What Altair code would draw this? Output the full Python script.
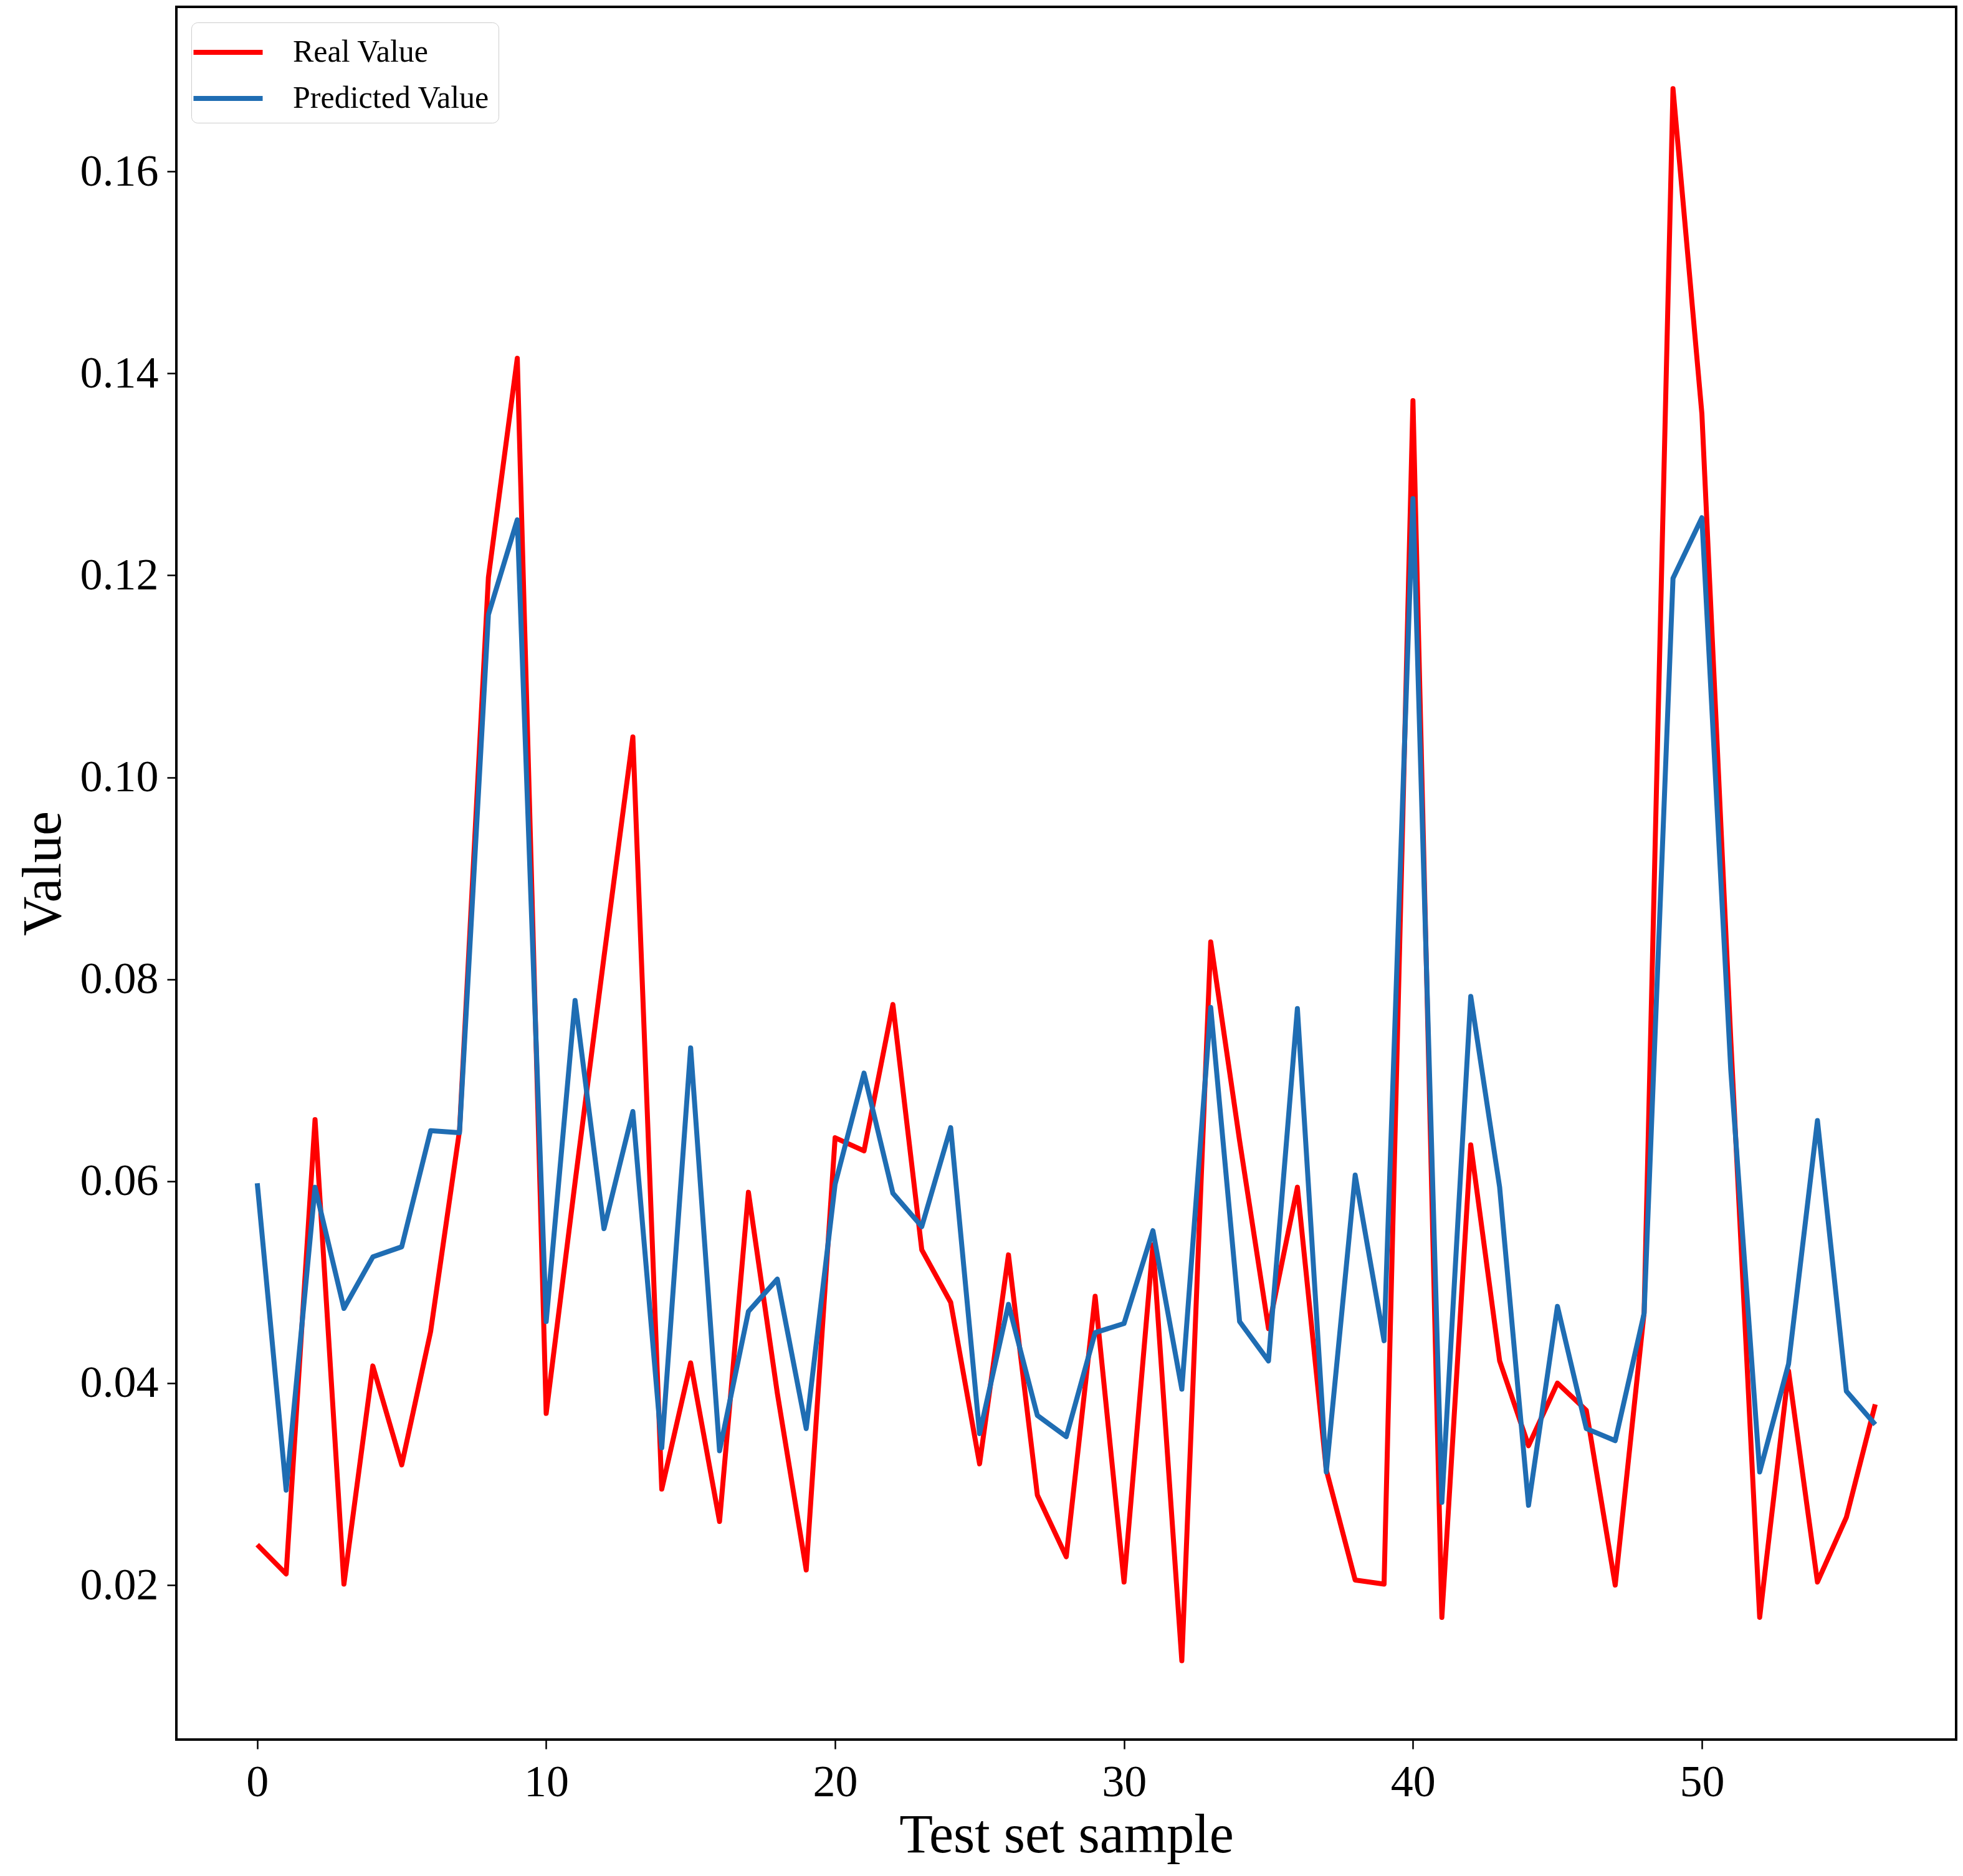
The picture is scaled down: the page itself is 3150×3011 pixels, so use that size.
import altair as alt
import pandas as pd

# ---- data ----
sample_idx = list(range(57))
real_value = [0.0240, 0.0211, 0.0661, 0.0201, 0.0417, 0.0319, 0.0451, 0.0650, 0.1198, 0.1415,
              0.0370, 0.0599, 0.0822, 0.1040, 0.0295, 0.0420, 0.0263, 0.0589, 0.0390, 0.0215,
              0.0643, 0.0630, 0.0775, 0.0532, 0.0480, 0.0320, 0.0527, 0.0289, 0.0228, 0.0486,
              0.0203, 0.0537, 0.0125, 0.0837, 0.0640, 0.0454, 0.0594, 0.0314, 0.0205, 0.0201,
              0.1373, 0.0168, 0.0636, 0.0422, 0.0338, 0.0400, 0.0373, 0.0200, 0.0470, 0.1682,
              0.1360, 0.0740, 0.0168, 0.0412, 0.0203, 0.0267, 0.0379]
predicted_value = [0.0598, 0.0294, 0.0594, 0.0474, 0.0525, 0.0535, 0.0650, 0.0648, 0.1161, 0.1255,
                   0.0461, 0.0779, 0.0553, 0.0669, 0.0336, 0.0732, 0.0333, 0.0471, 0.0503, 0.0355,
                   0.0597, 0.0707, 0.0588, 0.0555, 0.0653, 0.0350, 0.0478, 0.0368, 0.0347, 0.0450,
                   0.0459, 0.0551, 0.0394, 0.0772, 0.0461, 0.0422, 0.0771, 0.0312, 0.0606, 0.0442,
                   0.1276, 0.0282, 0.0783, 0.0594, 0.0279, 0.0476, 0.0355, 0.0343, 0.0469, 0.1197,
                   0.1257, 0.0710, 0.0312, 0.0419, 0.0660, 0.0392, 0.0359]
series_names = ["Real Value", "Predicted Value"]
series_colors = ["#ff0000", "#1f6db3"]
x_ticks = [0, 10, 20, 30, 40, 50]
y_ticks = [0.02, 0.04, 0.06, 0.08, 0.10, 0.12, 0.14, 0.16]
x_domain = [-2.8, 58.8]
y_domain = [0.0047, 0.1763]

n = len(sample_idx)
df = pd.DataFrame({
    "sample": sample_idx + sample_idx,
    "value": real_value + predicted_value,
    "series": [series_names[0]] * n + [series_names[1]] * n,
    "order": [0] * n + [1] * n,
})

FONT = "Liberation Serif"

chart = alt.Chart(df).mark_line(strokeWidth=8, strokeJoin="round").encode(
    x=alt.X("sample:Q",
            scale=alt.Scale(domain=x_domain, nice=False, zero=False),
            axis=alt.Axis(values=x_ticks, title="Test set sample", format="d")),
    y=alt.Y("value:Q",
            scale=alt.Scale(domain=y_domain, nice=False, zero=False),
            axis=alt.Axis(values=y_ticks, title="Value", format=".2f")),
    color=alt.Color("series:N",
                    scale=alt.Scale(domain=series_names, range=series_colors),
                    legend=alt.Legend(
                        title=None, orient="none", legendX=24, legendY=25,
                        symbolType="M-1.85,0L1.85,0", symbolSize=3600,
                        symbolStrokeWidth=8, symbolOffset=11,
                        labelFont=FONT, labelFontSize=50, labelColor="black",
                        labelLimit=0, labelOffset=70, rowPadding=15, padding=14,
                        strokeColor="#cccccc", cornerRadius=10, fillColor="white",
                    )),
    order=alt.Order("order:Q"),
).properties(
    width=2856,
    height=2781,
    autosize="none",
    padding={"left": 275, "top": 3, "right": 3, "bottom": 205},
).configure_view(
    stroke="black", strokeWidth=4,
).configure_axis(
    domain=False, grid=False,
    tickColor="black", tickSize=15, tickWidth=2.5,
    labelFont=FONT, labelFontSize=72, labelColor="black", labelPadding=14,
    titleFont=FONT, titleFontSize=88, titleFontWeight="normal", titleColor="black",
).configure_axisY(titlePadding=14).configure_axisX(titlePadding=6, labelPadding=18)

chart.save("out.html", embed_options={"renderer": "svg", "actions": False})
